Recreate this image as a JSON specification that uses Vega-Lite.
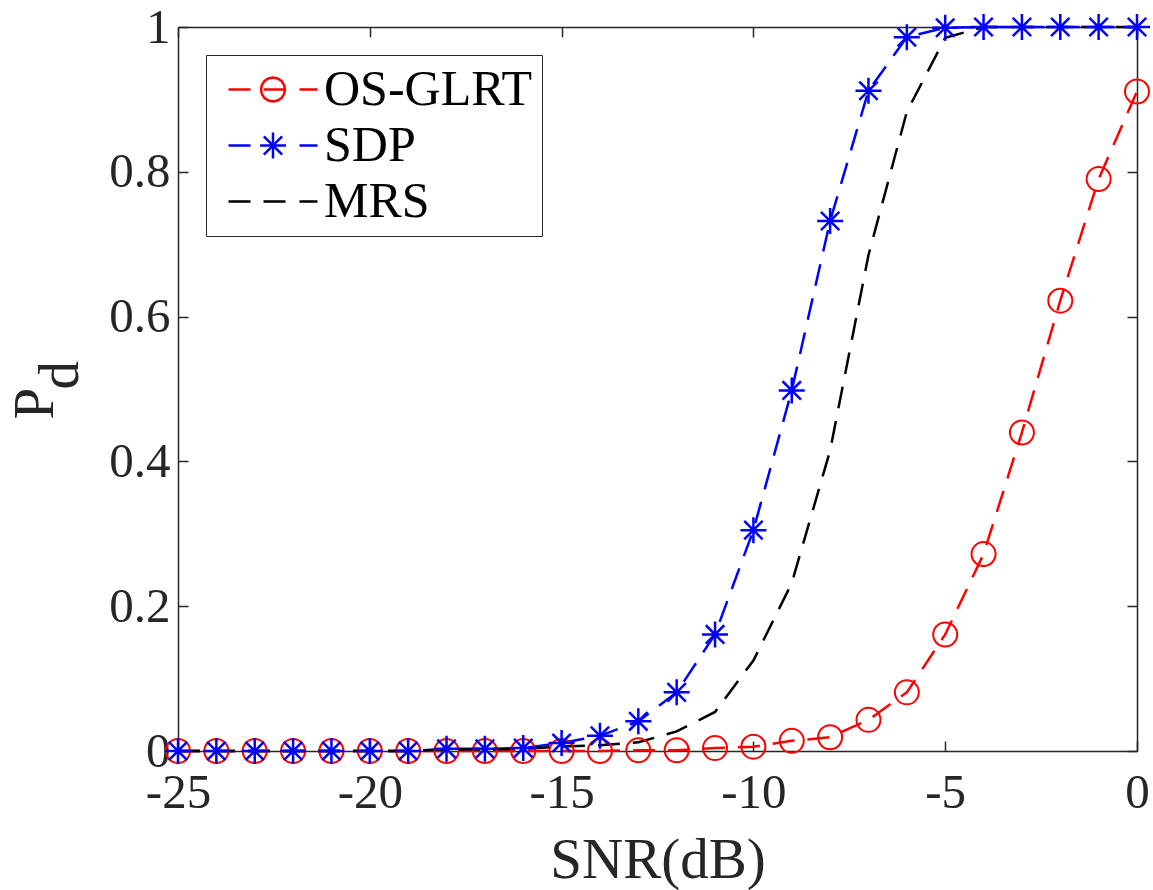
{
  "$schema": "https://vega.github.io/schema/vega-lite/v6.json",
  "width": 959,
  "height": 724,
  "autosize": {"type": "none"},
  "padding": {"left": 178, "top": 27, "right": 16, "bottom": 139},
  "background": "white",
  "config": {
    "font": "Liberation Serif",
    "view": {"stroke": null},
    "axis": {
      "grid": false,
      "domainColor": "#262626",
      "domainWidth": 1.5,
      "tickColor": "#262626",
      "tickWidth": 1.5,
      "tickSize": -10,
      "labelColor": "#262626",
      "labelFont": "Liberation Serif",
      "labelFontSize": 49,
      "titleColor": "#262626",
      "titleFont": "Liberation Serif",
      "titleFontSize": 57,
      "titleFontWeight": "normal"
    }
  },
  "data": {
    "values": [
      {"snr": -25, "method": "OS-GLRT", "pd": 0},
      {"snr": -24, "method": "OS-GLRT", "pd": 0},
      {"snr": -23, "method": "OS-GLRT", "pd": 0},
      {"snr": -22, "method": "OS-GLRT", "pd": 0},
      {"snr": -21, "method": "OS-GLRT", "pd": 0},
      {"snr": -20, "method": "OS-GLRT", "pd": 0},
      {"snr": -19, "method": "OS-GLRT", "pd": 0},
      {"snr": -18, "method": "OS-GLRT", "pd": 0},
      {"snr": -17, "method": "OS-GLRT", "pd": 0},
      {"snr": -16, "method": "OS-GLRT", "pd": 0},
      {"snr": -15, "method": "OS-GLRT", "pd": 0},
      {"snr": -14, "method": "OS-GLRT", "pd": 0},
      {"snr": -13, "method": "OS-GLRT", "pd": 0.001},
      {"snr": -12, "method": "OS-GLRT", "pd": 0.001},
      {"snr": -11, "method": "OS-GLRT", "pd": 0.004},
      {"snr": -10, "method": "OS-GLRT", "pd": 0.006},
      {"snr": -9, "method": "OS-GLRT", "pd": 0.014},
      {"snr": -8, "method": "OS-GLRT", "pd": 0.019},
      {"snr": -7, "method": "OS-GLRT", "pd": 0.043},
      {"snr": -6, "method": "OS-GLRT", "pd": 0.081},
      {"snr": -5, "method": "OS-GLRT", "pd": 0.161},
      {"snr": -4, "method": "OS-GLRT", "pd": 0.272},
      {"snr": -3, "method": "OS-GLRT", "pd": 0.44},
      {"snr": -2, "method": "OS-GLRT", "pd": 0.622},
      {"snr": -1, "method": "OS-GLRT", "pd": 0.79},
      {"snr": 0, "method": "OS-GLRT", "pd": 0.911},
      {"snr": -25, "method": "SDP", "pd": 0},
      {"snr": -24, "method": "SDP", "pd": 0},
      {"snr": -23, "method": "SDP", "pd": 0},
      {"snr": -22, "method": "SDP", "pd": 0},
      {"snr": -21, "method": "SDP", "pd": 0},
      {"snr": -20, "method": "SDP", "pd": 0},
      {"snr": -19, "method": "SDP", "pd": 0},
      {"snr": -18, "method": "SDP", "pd": 0.003},
      {"snr": -17, "method": "SDP", "pd": 0.003},
      {"snr": -16, "method": "SDP", "pd": 0.004},
      {"snr": -15, "method": "SDP", "pd": 0.011},
      {"snr": -14, "method": "SDP", "pd": 0.021},
      {"snr": -13, "method": "SDP", "pd": 0.041},
      {"snr": -12, "method": "SDP", "pd": 0.081},
      {"snr": -11, "method": "SDP", "pd": 0.161},
      {"snr": -10, "method": "SDP", "pd": 0.305},
      {"snr": -9, "method": "SDP", "pd": 0.498},
      {"snr": -8, "method": "SDP", "pd": 0.732},
      {"snr": -7, "method": "SDP", "pd": 0.912},
      {"snr": -6, "method": "SDP", "pd": 0.986},
      {"snr": -5, "method": "SDP", "pd": 0.999},
      {"snr": -4, "method": "SDP", "pd": 1},
      {"snr": -3, "method": "SDP", "pd": 1},
      {"snr": -2, "method": "SDP", "pd": 1},
      {"snr": -1, "method": "SDP", "pd": 1},
      {"snr": 0, "method": "SDP", "pd": 1},
      {"snr": -25, "method": "MRS", "pd": 0},
      {"snr": -24, "method": "MRS", "pd": 0},
      {"snr": -23, "method": "MRS", "pd": 0},
      {"snr": -22, "method": "MRS", "pd": 0},
      {"snr": -21, "method": "MRS", "pd": 0},
      {"snr": -20, "method": "MRS", "pd": 0},
      {"snr": -19, "method": "MRS", "pd": 0},
      {"snr": -18, "method": "MRS", "pd": 0.002},
      {"snr": -17, "method": "MRS", "pd": 0.002},
      {"snr": -16, "method": "MRS", "pd": 0.003},
      {"snr": -15, "method": "MRS", "pd": 0.006},
      {"snr": -14, "method": "MRS", "pd": 0.008},
      {"snr": -13, "method": "MRS", "pd": 0.012},
      {"snr": -12, "method": "MRS", "pd": 0.027},
      {"snr": -11, "method": "MRS", "pd": 0.054},
      {"snr": -10, "method": "MRS", "pd": 0.125},
      {"snr": -9, "method": "MRS", "pd": 0.232},
      {"snr": -8, "method": "MRS", "pd": 0.415},
      {"snr": -7, "method": "MRS", "pd": 0.685},
      {"snr": -6, "method": "MRS", "pd": 0.883},
      {"snr": -5, "method": "MRS", "pd": 0.985},
      {"snr": -4, "method": "MRS", "pd": 1},
      {"snr": -3, "method": "MRS", "pd": 1},
      {"snr": -2, "method": "MRS", "pd": 1},
      {"snr": -1, "method": "MRS", "pd": 1},
      {"snr": 0, "method": "MRS", "pd": 1}
    ]
  },
  "layer": [
    {
      "mark": {"type": "line", "strokeDash": [22, 13], "strokeWidth": 2.5},
      "encoding": {
        "x": {
          "field": "snr", "type": "quantitative",
          "scale": {"domain": [-25, 0], "nice": false, "zero": false},
          "axis": {"orient": "bottom", "values": [-25, -20, -15, -10, -5, 0], "labelExpr": "datum.value < 0 ? '-' + abs(datum.value) : '' + datum.value", "title": "SNR(dB)", "labelPadding": 27, "titlePadding": 15, "labelFlush": false}
        },
        "y": {
          "field": "pd", "type": "quantitative",
          "scale": {"domain": [0, 1], "nice": false},
          "axis": {"orient": "left", "values": [0, 0.2, 0.4, 0.6, 0.8, 1], "format": "~g", "title": ["P\u00a0\u00a0\u200b", "\u200b\u00a0\u00a0d"], "titleLineHeight": 25, "labelPadding": 18, "titlePadding": 19, "labelFlush": false}
        },
        "color": {
          "field": "method", "type": "nominal",
          "scale": {"domain": ["OS-GLRT", "SDP", "MRS"], "range": ["#FF0000", "#0000FF", "#000000"]},
          "legend": {
            "title": null,
            "orient": "top-left",
            "offset": 28,
            "labelFont": "Liberation Serif",
            "labelFontSize": 50,
            "labelColor": "#000000",
            "labelLimit": 500,
            "labelOffset": 58,
            "symbolSize": 2304,
            "symbolStrokeWidth": 2.5,
            "strokeColor": "#262626",
            "fillColor": "white",
            "padding": 9,
            "rowPadding": 5,
            "encode": {
              "symbols": {
                "update": {
                  "shape": {"signal": "datum.value === 'OS-GLRT' ? 'M-0.5,0L0.417,0M0.958,0L1.875,0M2.458,0L3.208,0M1.854,0L1.816,0.191L1.708,0.354L1.545,0.462L1.354,0.5L1.163,0.462L1,0.354L0.892,0.191L0.854,0L0.892,-0.191L1,-0.354L1.163,-0.462L1.354,-0.5L1.545,-0.462L1.708,-0.354L1.816,-0.191Z' : (datum.value === 'SDP' ? 'M-0.5,0L0.417,0M0.958,0L1.875,0M2.458,0L3.208,0M0.814,0L1.894,0M1.354,-0.54L1.354,0.54M0.972,-0.382L1.736,0.382M0.972,0.382L1.736,-0.382' : 'M-0.5,0L0.417,0M0.958,0L1.875,0M2.458,0L3.208,0')"},
                  "fill": {"value": "transparent"},
                  "strokeDash": {"value": []},
                  "strokeWidth": {"value": 2.5}
                }
              }
            }
          }
        }
      }
    },
    {
      "transform": [{"filter": "datum.method === 'OS-GLRT'"}],
      "mark": {"type": "point", "shape": "circle", "filled": false, "size": 576, "strokeWidth": 2, "color": "#FF0000", "opacity": 1},
      "encoding": {
        "x": {"field": "snr", "type": "quantitative", "axis": {"orient": "top", "values": [-25, -20, -15, -10, -5, 0], "labels": false, "title": null}},
        "y": {"field": "pd", "type": "quantitative", "axis": {"orient": "right", "values": [0, 0.2, 0.4, 0.6, 0.8, 1], "labels": false, "title": null}}
      }
    },
    {
      "transform": [{"filter": "datum.method === 'SDP'"}],
      "mark": {"type": "point", "shape": "M-1,0L1,0M0,-1L0,1M-0.7071,-0.7071L0.7071,0.7071M-0.7071,0.7071L0.7071,-0.7071", "filled": false, "size": 676, "strokeWidth": 2.5, "color": "#0000FF", "opacity": 1},
      "encoding": {
        "x": {"field": "snr", "type": "quantitative", "axis": null},
        "y": {"field": "pd", "type": "quantitative", "axis": null}
      }
    }
  ],
  "resolve": {"axis": {"x": "independent", "y": "independent"}}
}
